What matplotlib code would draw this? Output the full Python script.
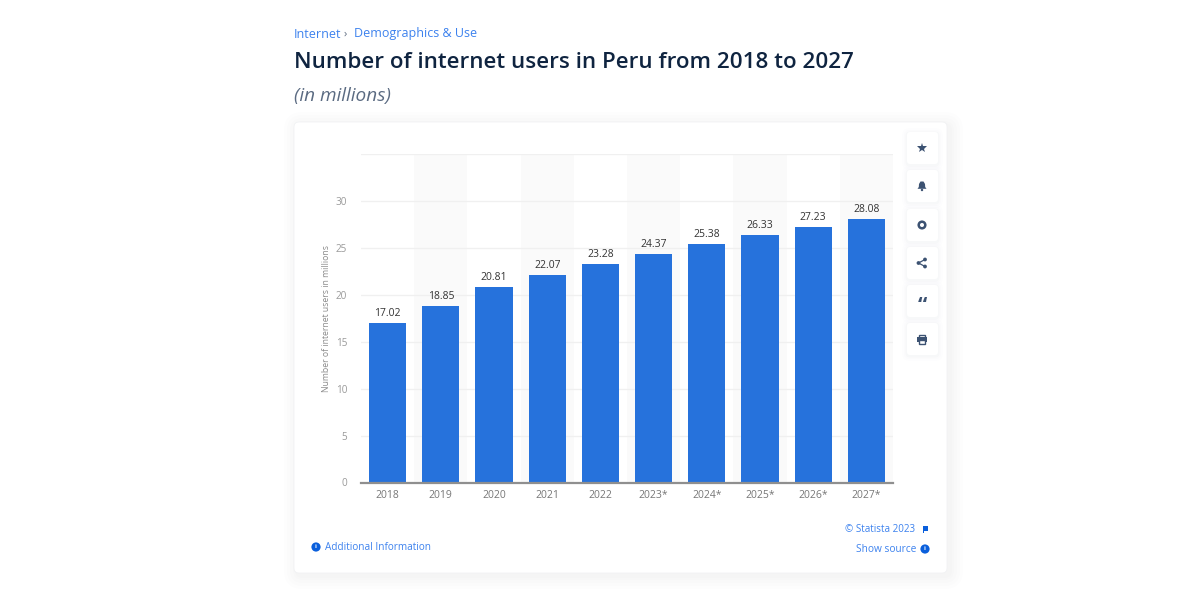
import matplotlib
matplotlib.use('Agg')
import matplotlib.pyplot as plt
from matplotlib.patches import FancyBboxPatch, Circle, Rectangle, Polygon

plt.rcParams['font.family'] = ['Open Sans', 'DejaVu Sans']

annees = ['2018', '2019', '2020', '2021', '2022', '2023*', '2024*', '2025*', '2026*', '2027*']
utilisateurs = [17.02, 18.85, 20.81, 22.07, 23.28, 24.37, 25.38, 26.33, 27.23, 28.08]
graduations = [0, 5, 10, 15, 20, 25, 30]

BLEU = '#2672dc'
LIEN = '#3d82ee'
SOMBRE = '#0f2440'
ICONE = '#3c5272'

fig = plt.figure(figsize=(12, 6), dpi=100, facecolor='white')

# calque en pixels pour la carte, les textes et les icones
fond = fig.add_axes([0, 0, 1, 1], zorder=0)
fond.set_xlim(0, 1200)
fond.set_ylim(600, 0)
fond.axis('off')

def boite(x, y, l, h, rayon, **kw):
    p = FancyBboxPatch((x + rayon, y + rayon), l - 2 * rayon, h - 2 * rayon,
                       boxstyle=f'round,pad={rayon}', **kw)
    fond.add_patch(p)

# ombre de la carte
for marge in [13, 10, 7, 4, 2]:
    boite(294 - marge + 3, 122 - marge + 3, 653 + 2 * marge, 451 + 2 * marge, 6 + marge,
          facecolor='#5a7090', alpha=0.011, edgecolor='none')
boite(294, 122, 653, 451, 5, facecolor='white', edgecolor='#f1f2f4', linewidth=0.6)

fond.text(294, 34, 'Internet', fontsize=9, color=LIEN, va='center')
fond.text(344, 34, '›', fontsize=8, color='#5d6b80', va='center')
fond.text(354, 34, 'Demographics & Use', fontsize=9, color=LIEN, va='center')
fond.text(294, 62.5, 'Number of internet users in Peru from 2018 to 2027', fontsize=16.15,
          fontweight='semibold', color=SOMBRE, va='center')
fond.text(294, 95.5, '(in millions)', fontsize=13.7, style='italic', color='#5b6b82', va='center')

# graphique
ax = fig.add_axes([361 / 1200, 1 - 482.5 / 600, 532 / 1200, 328.5 / 600], zorder=2)
ax.patch.set_alpha(0)
positions = list(range(len(annees)))
for i in positions[1::2]:
    ax.axvspan(i - 0.5, i + 0.5, color='#fafafa', linewidth=0, zorder=0)
ax.bar(positions, utilisateurs, width=0.7, color=BLEU, zorder=3)
for x, v in zip(positions, utilisateurs):
    ax.text(x, v + 0.42, f'{v:.2f}', ha='center', va='bottom', fontsize=7.5,
            color='#333333', zorder=4)
ax.set_xlim(-0.5, 9.5)
ax.set_ylim(0, 35)
ax.set_xticks(positions)
ax.set_xticklabels(annees, fontsize=7.5, color='#777777')
ax.set_yticks(graduations + [35])
ax.set_yticklabels([str(g) for g in graduations] + [''], fontsize=7.2, color='#9a9a9a')
ax.tick_params(axis='both', length=0)
ax.tick_params(axis='x', pad=5.5)
ax.tick_params(axis='y', pad=10)
ax.grid(axis='y', color='#f0f0f0', linewidth=1, zorder=1)
ax.set_axisbelow(True)
for cote in ['top', 'left', 'right']:
    ax.spines[cote].set_visible(False)
ax.spines['bottom'].set_color('#8f8f8f')
ax.spines['bottom'].set_linewidth(1.6)
ax.spines['bottom'].set_zorder(5)
ax.set_ylabel('Number of internet users in millions', fontsize=6.2, color='#8a8a8a')
ax.yaxis.set_label_coords(-30 / 532, 0.5)

# bas de carte
def pastille(x, y):
    fond.add_patch(Circle((x, y), 4.6, facecolor='#0a5fdc', edgecolor='none'))
    fond.text(x, y, 'i', fontsize=4.5, color='white', ha='center', va='center', fontweight='bold')

pastille(316, 547)
fond.text(325, 547.5, 'Additional Information', fontsize=7.2, color=LIEN, va='center')
fond.text(915, 529.5, '© Statista 2023', fontsize=7.1, color=LIEN, va='center', ha='right')
fond.add_patch(Rectangle((922.5, 526), 1.2, 7, facecolor='#0a5fdc', edgecolor='none'))
fond.add_patch(Rectangle((923.5, 526), 4, 4.5, facecolor='#0a5fdc', edgecolor='none'))
fond.text(916, 549.5, 'Show source', fontsize=7.3, color=LIEN, va='center', ha='right')
pastille(925, 549)

# boutons a droite
centres = [148, 186, 225, 263, 301, 339]
for cy in centres:
    for marge, a in [(5, 0.008), (3, 0.012), (1.5, 0.018)]:
        boite(907 - marge, cy - 16 - marge + 1, 31 + 2 * marge, 32 + 2 * marge, 3 + marge,
              facecolor='#5a7090', alpha=a, edgecolor='none', zorder=3)
    boite(907, cy - 16, 31, 32, 3, facecolor='white', edgecolor='none', zorder=4)

cx = 922
fond.plot(cx, centres[0], marker='*', markersize=7.5, color=ICONE, markeredgewidth=0, zorder=5)
# cloche
cy = centres[1]
fond.add_patch(Polygon([(cx - 1.5, cy - 4.5), (cx + 1.5, cy - 4.5), (cx + 3, cy - 2), (cx + 3.2, cy + 1),
                        (cx + 4.5, cy + 2.8), (cx - 4.5, cy + 2.8), (cx - 3.2, cy + 1), (cx - 3, cy - 2)],
                       facecolor=ICONE, edgecolor='none', zorder=5))
fond.add_patch(Circle((cx, cy + 4), 1.2, facecolor=ICONE, edgecolor='none', zorder=5))
# engrenage
fond.add_patch(Circle((cx, centres[2]), 3.3, facecolor='white', edgecolor=ICONE, linewidth=1.8, zorder=5))
# partage
pts = [(cx + 3, centres[3] - 3.5), (cx - 3.5, centres[3]), (cx + 3, centres[3] + 3.5)]
fond.plot([p[0] for p in pts], [p[1] for p in pts], color=ICONE, linewidth=0.9, zorder=5)
for p in pts:
    fond.add_patch(Circle(p, 1.9, facecolor=ICONE, edgecolor='none', zorder=6))
# citation
fond.text(cx, centres[4] + 6, '“', fontsize=15, fontweight='bold', color=ICONE,
          ha='center', va='center', zorder=5)
# imprimante
fond.add_patch(Rectangle((cx - 3, centres[5] - 4.5), 6, 3, facecolor='white', edgecolor=ICONE, linewidth=1, zorder=5))
fond.add_patch(Rectangle((cx - 5, centres[5] - 2), 10, 5, facecolor=ICONE, edgecolor='none', zorder=6))
fond.add_patch(Rectangle((cx - 3, centres[5] + 1), 6, 3.5, facecolor='white', edgecolor=ICONE, linewidth=1, zorder=7))

fig.savefig('out.png', dpi=100)
